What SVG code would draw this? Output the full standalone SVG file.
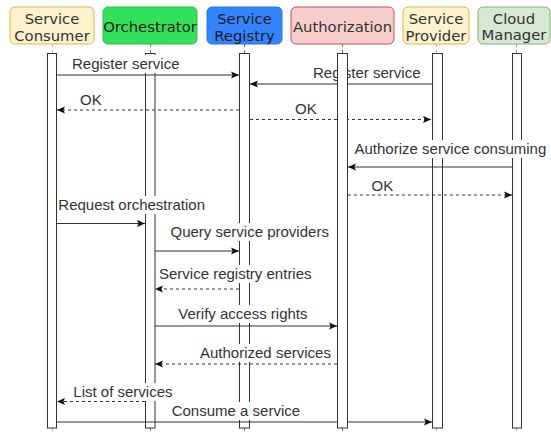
<svg xmlns="http://www.w3.org/2000/svg" width="551" height="434" viewBox="0 0 551 434">
  <style>
    .head { stroke-width: 1; }
    .htxt { font-family: "DejaVu Sans", Verdana, sans-serif; font-size: 14.8px; text-anchor: middle; fill: #333333; }
    .bar { fill: #ffffff; stroke: #333333; stroke-width: 1; }
    .life { fill: none; stroke-width: 1; stroke-dasharray: 3 3; }
    .msg { fill: none; stroke: #333333; stroke-width: 1; }
    .ret { fill: none; stroke: #333333; stroke-width: 1; stroke-dasharray: 3 3; }
    .lbl { font-family: "Liberation Sans", Arial, sans-serif; font-size: 15px; fill: #333333; }
    .lbg { fill: #ffffff; }
  </style>
  <defs>
    <marker id="arrow" viewBox="0 0 8 8" refX="8" refY="4" markerWidth="8" markerHeight="8" markerUnits="userSpaceOnUse" orient="auto">
      <path d="M0,0.4 L8,4 L0,7.6 L1.6,4 Z" fill="#111111"/>
    </marker>
  </defs>

  <rect width="551" height="434" fill="#ffffff"/>

  <!-- Service Consumer -->
  <g id="consumer">
    <rect class="head" x="10" y="7" width="84" height="37" rx="5" fill="#fff2cc" stroke="#d6b656"/>
    <text class="htxt" x="52" y="24">Service</text>
    <text class="htxt" x="52" y="40.5">Consumer</text>
    <line class="life" x1="52.5" y1="44" x2="52.5" y2="53.5" stroke="#d6b656"/>
    <line class="life" x1="52.5" y1="428" x2="52.5" y2="434" stroke="#d6b656"/>
    <rect class="bar" x="47.5" y="53.5" width="9" height="374.5"/>
  </g>

  <!-- Orchestrator -->
  <g id="orchestrator">
    <rect class="head" x="103" y="7" width="94" height="37" rx="5" fill="#33e05a" stroke="#2cbf4c"/>
    <text class="htxt" x="150" y="32" fill="#1a1a1a" style="fill:#1a1a1a">Orchestrator</text>
    <line class="life" x1="150.5" y1="44" x2="150.5" y2="53.5" stroke="#2cbf4c"/>
    <line class="life" x1="150.5" y1="428" x2="150.5" y2="434" stroke="#2cbf4c"/>
    <rect class="bar" x="145.5" y="53.5" width="9.5" height="374.5"/>
  </g>

  <!-- Service Registry -->
  <g id="registry">
    <rect class="head" x="207" y="7" width="75" height="37" rx="5" fill="#3385ff" stroke="#2f73dd"/>
    <text class="htxt" x="244.5" y="24" style="fill:#1a1a1a">Service</text>
    <text class="htxt" x="244.5" y="40.5" style="fill:#1a1a1a">Registry</text>
    <line class="life" x1="244.5" y1="44" x2="244.5" y2="53.5" stroke="#2f73dd"/>
    <line class="life" x1="244.5" y1="428" x2="244.5" y2="434" stroke="#2f73dd"/>
    <rect class="bar" x="239.5" y="53.5" width="10" height="374.5"/>
  </g>

  <!-- Service Provider -->
  <g id="provider">
    <rect class="head" x="403" y="7" width="66" height="37" rx="5" fill="#fff2cc" stroke="#d6b656"/>
    <text class="htxt" x="436" y="24">Service</text>
    <text class="htxt" x="436" y="40.5">Provider</text>
    <line class="life" x1="436.5" y1="44" x2="436.5" y2="53.5" stroke="#d6b656"/>
    <line class="life" x1="436.5" y1="428" x2="436.5" y2="434" stroke="#d6b656"/>
    <rect class="bar" x="432.5" y="53.5" width="10" height="374.5"/>
  </g>

  <!-- Cloud Manager -->
  <g id="cloud-manager">
    <rect class="head" x="478" y="7" width="72" height="37" rx="5" fill="#d5e8d4" stroke="#82b366"/>
    <text class="htxt" x="514" y="24">Cloud</text>
    <text class="htxt" x="514" y="40">Manager</text>
    <line class="life" x1="516.5" y1="44" x2="516.5" y2="53.5" stroke="#82b366"/>
    <line class="life" x1="516.5" y1="428" x2="516.5" y2="434" stroke="#82b366"/>
    <rect class="bar" x="512.5" y="53.5" width="9" height="374.5"/>
  </g>

  <!-- Messages -->
  <g id="connectors">
    <!-- Register service: consumer -> registry -->
    <line class="msg" x1="57" y1="75" x2="239" y2="75" marker-end="url(#arrow)"/>
    <rect class="lbg" x="71" y="55" width="110" height="18"/>
    <text class="lbl" x="72" y="69">Register service</text>

    <!-- Register service: provider -> registry -->
    <line class="msg" x1="432" y1="84" x2="250" y2="84" marker-end="url(#arrow)"/>
    <text class="lbl" x="313" y="77.5">Register service</text>

    <!-- OK: registry -> consumer -->
    <line class="ret" x1="239" y1="110" x2="57" y2="110" marker-end="url(#arrow)"/>
    <text class="lbl" x="80" y="105">OK</text>

    <!-- OK: registry -> provider -->
    <line class="ret" x1="250" y1="119.5" x2="431" y2="119.5" marker-end="url(#arrow)"/>
    <text class="lbl" x="295" y="114">OK</text>

    <!-- Authorize service consuming: cloud manager -> authorization -->
    <line class="msg" x1="512" y1="167" x2="348" y2="167" marker-end="url(#arrow)"/>
    <rect class="lbg" x="353" y="140" width="194" height="18"/>
    <text class="lbl" x="354.5" y="154">Authorize service consuming</text>

    <!-- OK: authorization -> cloud manager -->
    <line class="ret" x1="348" y1="195" x2="512" y2="195" marker-end="url(#arrow)"/>
    <text class="lbl" x="371.5" y="191">OK</text>

    <!-- Request orchestration: consumer -> orchestrator -->
    <line class="msg" x1="57" y1="223.5" x2="145" y2="223.5" marker-end="url(#arrow)"/>
    <rect class="lbg" x="57" y="196" width="150" height="18"/>
    <text class="lbl" x="58.3" y="210">Request orchestration</text>

    <!-- Query service providers: orchestrator -> registry -->
    <line class="msg" x1="155" y1="251" x2="239" y2="251" marker-end="url(#arrow)"/>
    <rect class="lbg" x="169" y="223" width="161" height="18"/>
    <text class="lbl" x="170.5" y="237">Query service providers</text>

    <!-- Service registry entries: registry -> orchestrator -->
    <line class="ret" x1="239" y1="289" x2="155" y2="289" marker-end="url(#arrow)"/>
    <rect class="lbg" x="158" y="265" width="155" height="18"/>
    <text class="lbl" x="159" y="279">Service registry entries</text>

    <!-- Verify access rights: orchestrator -> authorization -->
    <line class="msg" x1="155" y1="326" x2="337" y2="326" marker-end="url(#arrow)"/>
    <rect class="lbg" x="177" y="305" width="133" height="18"/>
    <text class="lbl" x="178.3" y="319">Verify access rights</text>

    <!-- Authorized services: authorization -> orchestrator -->
    <line class="ret" x1="337" y1="364" x2="155" y2="364" marker-end="url(#arrow)"/>
    <rect class="lbg" x="199" y="344" width="134" height="18"/>
    <text class="lbl" x="200" y="358">Authorized services</text>

    <!-- List of services: orchestrator -> consumer -->
    <line class="ret" x1="145" y1="401.5" x2="57" y2="401.5" marker-end="url(#arrow)"/>
    <rect class="lbg" x="72" y="383" width="102" height="18"/>
    <text class="lbl" x="73.3" y="397">List of services</text>

    <!-- Consume a service: consumer -> provider -->
    <line class="msg" x1="57" y1="422" x2="432" y2="422" marker-end="url(#arrow)"/>
    <rect class="lbg" x="170" y="402" width="131" height="18"/>
    <text class="lbl" x="171.7" y="416">Consume a service</text>
  </g>

  <!-- Authorization (drawn above the message labels) -->
  <g id="authorization">
    <rect class="head" x="291" y="7" width="103" height="37" rx="5" fill="#f8cecc" stroke="#b85450"/>
    <text class="htxt" x="342.5" y="32">Authorization</text>
    <line class="life" x1="342.5" y1="44" x2="342.5" y2="53.5" stroke="#b85450"/>
    <line class="life" x1="342.5" y1="428" x2="342.5" y2="434" stroke="#b85450"/>
    <rect class="bar" x="337.5" y="53.5" width="10" height="374.5"/>
  </g>
</svg>
